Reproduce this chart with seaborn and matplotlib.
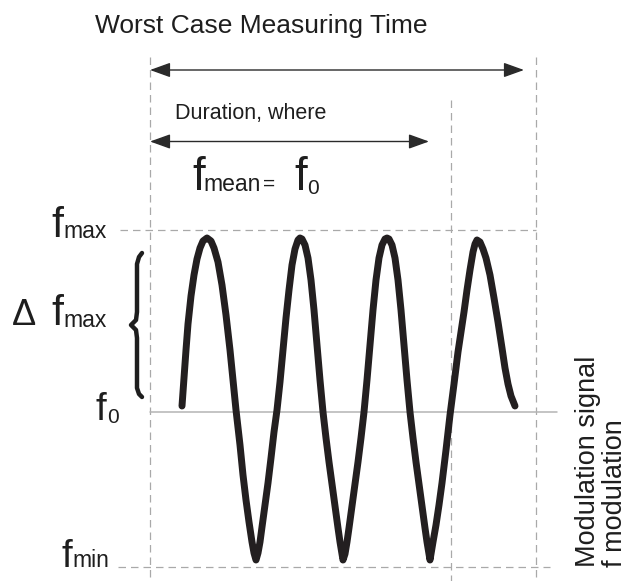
import matplotlib
matplotlib.use("Agg")
import matplotlib.pyplot as plt
import seaborn as sns

# wave (pixel coords, y grows downward)
wave_x = [182, 184, 186, 188, 191, 194, 197, 200, 203, 207,
          211, 214, 218, 222, 226, 230, 233, 236, 240, 243, 246, 249, 252, 254, 256,
          258, 260, 262, 265, 268, 271, 274, 277, 280, 283, 286, 289, 292, 295, 298, 300,
          302, 305, 308, 311, 314, 317, 320, 323, 326, 329, 332, 335, 338, 340, 342, 343,
          345, 347, 349, 352, 355, 358, 361, 364, 367, 370, 373, 376, 379, 382, 385, 387,
          389, 392, 395, 398, 401, 404, 407, 410, 413, 416, 419, 422, 425, 427, 429, 430,
          431, 433, 436, 439, 442, 446, 450, 454, 458, 461, 464, 467, 470, 473, 475, 477,
          480, 483, 486, 490, 494, 498, 502, 505, 508, 511, 515]
wave_y = [406, 378, 350, 324, 296, 275, 259, 248, 241, 238,
          241, 248, 262, 285, 315, 350, 380, 410, 445, 475, 500, 522, 542, 553, 560,
          553, 542, 527, 505, 483, 458, 432, 410, 382, 350, 318, 290, 265, 249, 240, 238,
          239, 245, 258, 280, 310, 345, 380, 412, 438, 462, 484, 506, 528, 542, 554, 560,
          554, 542, 528, 506, 484, 462, 438, 412, 380, 345, 310, 280, 258, 245, 239, 238,
          239, 245, 258, 280, 310, 345, 380, 412, 438, 462, 484, 506, 528, 542, 554, 560,
          554, 542, 525, 505, 483, 450, 415, 384, 352, 332, 312, 290, 270, 252, 244, 240,
          242, 249, 258, 275, 298, 322, 348, 368, 384, 396, 406]

brace_x = [142, 139, 137, 137, 136, 131, 136, 137, 137, 139, 142]
brace_y = [253, 257, 264, 312, 320, 325, 330, 338, 388, 394, 397]

# reference levels / time markers
y_fmax = 230
y_f0 = 411.5
y_fmin = 567
x_start = 150
x_duration = 450.5
x_worst = 535.5

sns.set_theme(style="white")
plt.rcParams['font.family'] = ['Liberation Sans', 'DejaVu Sans']

fig = plt.figure(figsize=(6.28, 5.81), dpi=100)
ax = fig.add_axes([0, 0, 1, 1])

grey = "#a9a9a9"
ink = "#1e1e1e"
dash = dict(color=grey, lw=0.9, dashes=(6, 4))

# guide lines
ax.plot([x_start, x_start], [57, 581], **dash)
ax.plot([x_worst, x_worst], [57, 581], **dash)
ax.plot([x_duration, x_duration], [100, 581], **dash)
ax.plot([120, x_worst], [y_fmax, y_fmax], **dash)
ax.plot([118, 550], [y_fmin, y_fmin], **dash)
ax.plot([x_start, 557], [y_f0, y_f0], color="#b4b4b4", lw=1.1)

# modulation wave
sns.lineplot(x=wave_x, y=wave_y, sort=False, estimator=None, color="#231f20",
             linewidth=5.0, ax=ax)
ax.lines[-1].set_solid_capstyle("round")
ax.lines[-1].set_solid_joinstyle("round")

# brace
ax.plot(brace_x, brace_y, color=ink, lw=3.2, solid_capstyle="round",
        solid_joinstyle="round")

# arrows
aprops = dict(arrowstyle="<|-|>,head_length=1.25,head_width=0.45",
              color="#2a2a2a", lw=1.0, shrinkA=0, shrinkB=0, mutation_scale=10)
ax.annotate("", xy=(524, 70), xytext=(x_start, 70), arrowprops=aprops)
ax.annotate("", xy=(429, 141.5), xytext=(x_start, 141.5), arrowprops=aprops)

ax.text(95, 33, "Worst Case Measuring Time", fontsize=19, color=ink,
        ha="left", va="baseline")
ax.text(175, 119, "Duration, where", fontsize=15.5, color=ink,
        ha="left", va="baseline")

# f_mean = f_0
ax.text(192, 190, "f", fontsize=33, color=ink, va="baseline")
ax.text(203, 191, "mean", fontsize=16.5, color=ink, va="baseline")
ax.text(263, 190, "=", fontsize=15, color=ink, va="baseline")
ax.text(294, 190, "f", fontsize=33, color=ink, va="baseline")
ax.text(307, 194, "0", fontsize=15, color=ink, va="baseline")

# left labels
ax.text(51, 237, "f", fontsize=31, color=ink, va="baseline")
ax.text(63, 238, "max", fontsize=16.5, color=ink, va="baseline")
ax.text(12, 325, "\u0394", fontsize=26, color=ink, va="baseline")
ax.text(51, 325, "f", fontsize=31, color=ink, va="baseline")
ax.text(63, 327, "max", fontsize=16.5, color=ink, va="baseline")
ax.text(96, 420, "f", fontsize=28, color=ink, va="baseline")
ax.text(107, 423, "0", fontsize=15, color=ink, va="baseline")
ax.text(62, 567, "f", fontsize=28, color=ink, va="baseline")
ax.text(72, 567, "min", fontsize=16.5, color=ink, va="baseline")

# rotated axis note
ax.text(595, 567, "Modulation signal", fontsize=19.5, color=ink, rotation=90,
        rotation_mode="anchor", ha="left", va="baseline")
ax.text(622, 567, "f modulation", fontsize=19.5, color=ink, rotation=90,
        rotation_mode="anchor", ha="left", va="baseline")

ax.set_xlim(0, 628)
ax.set_ylim(581, 0)
ax.axis("off")

fig.savefig("out.png", dpi=100)
